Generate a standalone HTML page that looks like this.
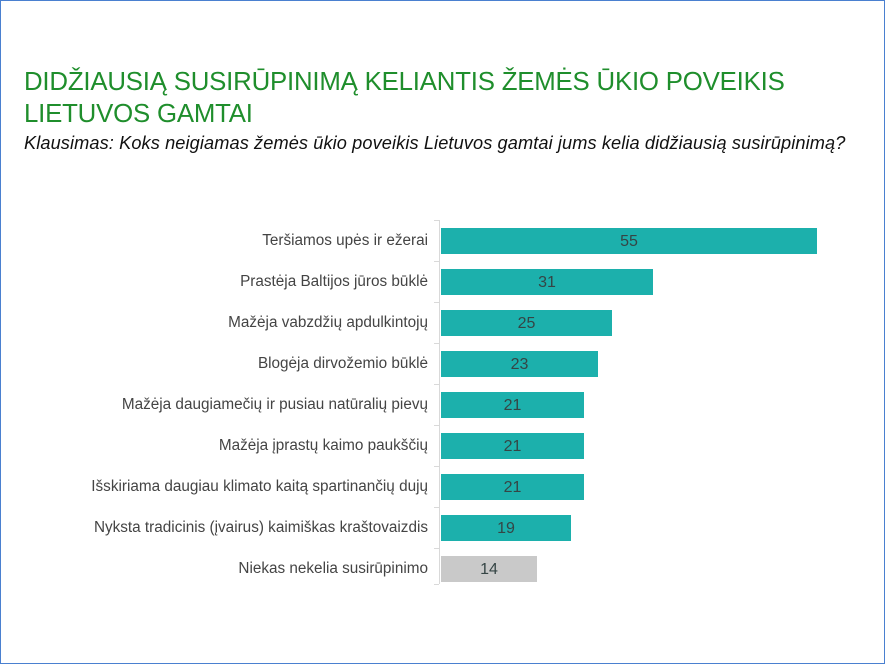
<!DOCTYPE html>
<html><head><meta charset="utf-8"><style>
body{margin:0;width:886px;height:665px;overflow:hidden;background:#fff;font-family:"Liberation Sans",sans-serif}
.frame{position:absolute;left:0;top:0;width:883px;height:662px;border:1.5px solid #4a80d0;}
.t{position:absolute;left:24px;top:66px;color:#1f8e2c;font-size:25.8px;line-height:32px;letter-spacing:-0.2px;width:840px}
.s{position:absolute;left:24px;top:133px;font-style:italic;font-size:18.2px;color:#111;letter-spacing:0.1px}
.lab{position:absolute;right:458px;font-size:15.3px;color:#444;white-space:nowrap;text-align:right}
.bar{position:absolute;left:441px;height:26px;background:#1cb0ac;text-align:center;font-size:16px;line-height:28px;color:#354545}
.ax{position:absolute;left:439px;top:220px;width:1px;height:364px;background:#d9d9d9}
.tk{position:absolute;left:434px;width:5px;height:1px;background:#d9d9d9}
</style></head><body>
<div class="frame"></div>
<div class="t">DIDŽIAUSIĄ SUSIRŪPINIMĄ KELIANTIS ŽEMĖS ŪKIO POVEIKIS LIETUVOS GAMTAI</div>
<div class="s">Klausimas: Koks neigiamas žemės ūkio poveikis Lietuvos gamtai jums kelia didžiausią susirūpinimą?</div>
<div class="ax"></div>
<div class="tk" style="top:220px"></div><div class="tk" style="top:261px"></div><div class="tk" style="top:302px"></div><div class="tk" style="top:343px"></div><div class="tk" style="top:384px"></div><div class="tk" style="top:425px"></div><div class="tk" style="top:466px"></div><div class="tk" style="top:507px"></div><div class="tk" style="top:548px"></div><div class="tk" style="top:584px"></div>
<div class="lab" style="top:232px">Teršiamos upės ir ežerai</div><div class="bar" style="top:228px;width:376px">55</div>
<div class="lab" style="top:273px">Prastėja Baltijos jūros būklė</div><div class="bar" style="top:269px;width:212px">31</div>
<div class="lab" style="top:314px">Mažėja vabzdžių apdulkintojų</div><div class="bar" style="top:310px;width:171px">25</div>
<div class="lab" style="top:355px">Blogėja dirvožemio būklė</div><div class="bar" style="top:351px;width:157px">23</div>
<div class="lab" style="top:396px">Mažėja daugiamečių ir pusiau natūralių pievų</div><div class="bar" style="top:392px;width:143px">21</div>
<div class="lab" style="top:437px">Mažėja įprastų kaimo paukščių</div><div class="bar" style="top:433px;width:143px">21</div>
<div class="lab" style="top:478px">Išskiriama daugiau klimato kaitą spartinančių dujų</div><div class="bar" style="top:474px;width:143px">21</div>
<div class="lab" style="top:519px">Nyksta tradicinis (įvairus) kaimiškas kraštovaizdis</div><div class="bar" style="top:515px;width:130px">19</div>
<div class="lab" style="top:560px">Niekas nekelia susirūpinimo</div><div class="bar" style="top:556px;width:96px;background:#c9c9c9">14</div>
</body></html>
